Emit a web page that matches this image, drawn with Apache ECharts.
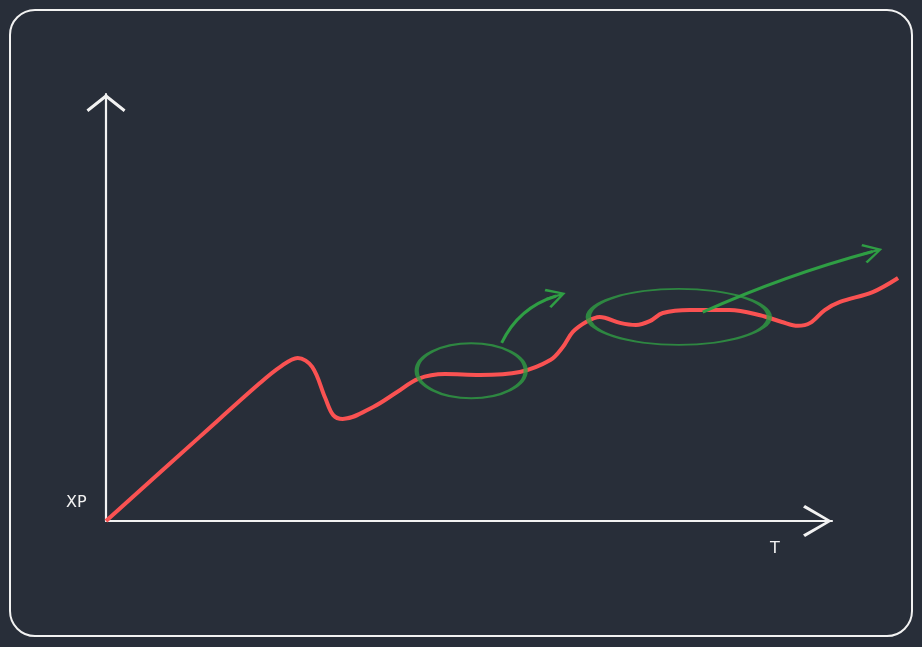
<!DOCTYPE html>
<html>
<head>
<meta charset="utf-8">
<script src="https://cdn.jsdelivr.net/npm/echarts@6/dist/echarts.min.js"></script>
<style>
  html, body { margin: 0; padding: 0; background: #282e39; }
  #chart { width: 922px; height: 647px; }
</style>
</head>
<body>
<div id="chart"></div>
<script>
// xp curve (time 0..100 = drawn axis length, curve runs a bit past it)
const timeX = [0, 12.9, 21.2, 24.0, 26.4, 28.4, 30.2, 31.3, 32.6, 36.8, 40.1, 43.0, 46.7, 51.5, 57.0,
  61.2, 62.9, 64.3, 66.3, 68.0, 70.8, 73.0, 74.9, 76.7, 80.4, 85.9, 90.1, 93.1, 95.3, 97.0, 99.0,
  101.1, 105.6, 109.1];
const xpY = [0, 19.7, 32.3, 36.1, 38.2, 36.1, 28.8, 24.8, 23.9, 26.7, 30.2, 33.3, 34.4, 34.2, 34.9,
  37.7, 40.7, 44.3, 46.8, 47.8, 46.4, 45.9, 46.8, 48.7, 49.4, 49.4, 48.2, 46.6, 45.7, 46.4, 49.4,
  51.3, 53.6, 56.9];

// green circled plateaus: centre [t, xp] and size in px
const plateauCenters = [[50.3, 35.2], [78.9, 47.8]];
const plateauSizes = [[109, 55], [181, 56]];

// green arrows: from, to (middle of the head), curveness
const arrowFrom = [[54.5, 41.7], [82.2, 48.9]];
const arrowTo = [[62.0, 52.7], [105.6, 63.1]];
const arrowCurve = [0.22, 0.04];

const RED = '#fa5252';
const GREEN = '#2f9e44';
const WHITE = '#f2f2f2';

const ellipsePath = 'path://M0,50 C0,22.4 22.4,0 50,0 C77.6,0 100,22.4 100,50 C100,77.6 77.6,100 50,100 C22.4,100 0,77.6 0,50 Z';
const headX = 'path://M16,0 L32,27 L29.6,29 L16,5 L2.4,29 L0,27 Z';
const headY = 'path://M19.5,0 L39,15.5 L37.2,18 L19.5,4 L1.8,18 L0,15.5 Z';
const headGreen = 'path://M11,0 L22,18 L19.8,19.6 L11,4.5 L2.2,19.6 L0,18 Z M9.8,3 L12.2,3 L12.2,20 L9.8,20 Z';

// the plot grid is wider than the drawn axes, so the curve can run past the T arrow
const X_MAX = 110;
const plotRight = 922 - 106 - 7.26 * X_MAX;

const hiddenAxis = {
  axisLine: { show: false },
  axisTick: { show: false },
  axisLabel: { show: false },
  splitLine: { show: false }
};

const chart = echarts.init(document.getElementById('chart'));
chart.setOption({
  backgroundColor: '#282e39',
  animation: false,
  grid: [
    { left: 106, right: 90, top: 94, bottom: 126 },
    { left: 106, right: plotRight, top: 94, bottom: 126 }
  ],
  xAxis: [
    {
      gridIndex: 0, type: 'value', min: 0, max: 100,
      axisLine: {
        lineStyle: { color: WHITE, width: 2.2 },
        symbol: ['none', headX],
        symbolSize: [32, 29],
        symbolOffset: [0, -14.5]
      },
      axisTick: { show: false },
      axisLabel: { show: false },
      splitLine: { show: false }
    },
    Object.assign({ gridIndex: 1, type: 'value', min: 0, max: X_MAX }, hiddenAxis)
  ],
  yAxis: [
    {
      gridIndex: 0, type: 'value', min: 0, max: 100,
      axisLine: {
        show: true,
        lineStyle: { color: WHITE, width: 2.2 },
        symbol: ['none', headY],
        symbolSize: [39, 18],
        symbolOffset: [0, -9]
      },
      axisTick: { show: false },
      axisLabel: { show: false },
      splitLine: { show: false }
    },
    Object.assign({ gridIndex: 1, type: 'value', min: 0, max: 100 }, hiddenAxis)
  ],
  graphic: [
    {
      type: 'rect',
      shape: { x: 10, y: 10, width: 902, height: 626, r: 25 },
      style: { fill: 'none', stroke: WHITE, lineWidth: 2 },
      silent: true
    },
    {
      type: 'text', left: 66, top: 495,
      style: { text: 'XP', fill: WHITE, font: '16px "DejaVu Sans"' }
    },
    {
      type: 'text', left: 770, top: 541,
      style: { text: 'T', fill: WHITE, font: '16px "DejaVu Sans"' }
    }
  ],
  series: [
    {
      type: 'line',
      xAxisIndex: 1, yAxisIndex: 1,
      data: timeX.map((t, i) => [t, xpY[i]]),
      smooth: 0.35,
      showSymbol: false,
      clip: false,
      lineStyle: { color: RED, width: 4 },
      z: 2
    },
    {
      type: 'scatter',
      xAxisIndex: 1, yAxisIndex: 1,
      data: plateauCenters.map((c, i) => ({ value: c, symbolSize: plateauSizes[i] })),
      symbol: ellipsePath,
      itemStyle: { color: 'rgba(0,0,0,0)', borderColor: GREEN, borderWidth: 3 },
      z: 3
    },
    {
      type: 'lines',
      coordinateSystem: 'cartesian2d',
      xAxisIndex: 1, yAxisIndex: 1,
      clip: false,
      symbol: ['none', headGreen],
      symbolSize: [22, 20],
      data: arrowFrom.map((f, i) => ({
        coords: [f, arrowTo[i]],
        lineStyle: { curveness: arrowCurve[i] }
      })),
      lineStyle: { color: GREEN, width: 3, opacity: 1 },
      z: 4
    }
  ]
});
</script>
</body>
</html>
